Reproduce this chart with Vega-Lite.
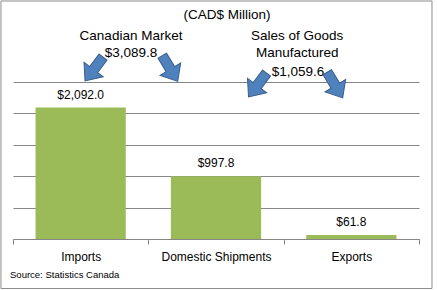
{
  "$schema": "https://vega.github.io/schema/vega-lite/v6.json",
  "width": 406,
  "height": 157,
  "autosize": {"type": "none"},
  "padding": {"left": 13, "top": 82, "right": 18, "bottom": 51},
  "background": "white",
  "config": {"view": {"stroke": null}, "font": "Liberation Sans"},
  "datasets": {
    "bars": [
      {"category": "Imports", "value": 2092.0},
      {"category": "Domestic Shipments", "value": 997.8},
      {"category": "Exports", "value": 61.8}
    ],
    "notes": [
      {"text": "Canadian Market", "x": 0.872, "y": 3237},
      {"text": "$3,089.8", "x": 0.872, "y": 2962},
      {"text": "Sales of Goods", "x": 2.1, "y": 3237},
      {"text": "Manufactured", "x": 2.1, "y": 2962},
      {"text": "$1,059.6", "x": 2.106, "y": 2659}
    ],
    "heading": [{"text": "(CAD$ Million)", "x": 1.581, "y": 3567}],
    "source": [{"text": "Source: Statistics Canada", "x": -0.022, "y": -573}],
    "arrows": [
      {"dir": "left", "x": 0.599, "y": 2707},
      {"dir": "right", "x": 1.16, "y": 2715},
      {"dir": "left", "x": 1.807, "y": 2452},
      {"dir": "right", "x": 2.379, "y": 2452}
    ],
    "frame": [{"x": -0.089, "x2": 3.096, "y": -788, "y2": 3790}]
  },
  "layer": [
    {
      "data": {"name": "frame"},
      "mark": {"type": "rect", "fill": "white", "fillOpacity": 0, "stroke": "#8c8c8c", "strokeWidth": 1},
      "encoding": {
        "x": {"field": "x", "type": "quantitative", "scale": {"domain": [0, 3], "nice": false, "zero": false}, "axis": null},
        "x2": {"field": "x2"},
        "y": {"field": "y", "type": "quantitative", "scale": {"domain": [0, 2500], "nice": false},
          "axis": {"title": null, "labels": false, "ticks": false, "domain": false, "values": [0, 500, 1000, 1500, 2000, 2500], "grid": true, "gridColor": "#868686", "gridWidth": 1}},
        "y2": {"field": "y2"}
      }
    },
    {
      "data": {"name": "bars"},
      "mark": {"type": "bar", "color": "#9BBB59", "width": {"band": 0.6667}},
      "encoding": {
        "x": {
          "field": "category", "type": "nominal", "sort": null,
          "scale": {"paddingInner": 0, "paddingOuter": 0},
          "axis": {
            "title": null, "labelAngle": 0, "tickBand": "extent",
            "domainColor": "#868686", "tickColor": "#868686", "tickSize": 5,
            "labelFont": "Liberation Sans", "labelFontSize": 12, "labelColor": "#000000",
            "labelPadding": 7
          }
        },
        "y": {
          "field": "value", "type": "quantitative",
          "scale": {"domain": [0, 2500], "nice": false},
          "axis": {"title": null, "labels": false, "ticks": false, "domain": false, "values": [0, 500, 1000, 1500, 2000, 2500], "grid": true, "gridColor": "#868686", "gridWidth": 1}
        }
      }
    },
    {
      "data": {"name": "bars"},
      "mark": {"type": "text", "baseline": "middle", "dy": -13, "fontSize": 12, "font": "Liberation Sans", "color": "#000000"},
      "encoding": {
        "x": {"field": "category", "type": "nominal", "sort": null, "scale": {"paddingInner": 0, "paddingOuter": 0}, "axis": null},
        "y": {"field": "value", "type": "quantitative", "scale": {"domain": [0, 2500], "nice": false},
          "axis": {"title": null, "labels": false, "ticks": false, "domain": false, "values": [0, 500, 1000, 1500, 2000, 2500], "grid": true, "gridColor": "#868686", "gridWidth": 1}},
        "text": {"field": "value", "format": "$,.1f"}
      }
    },
    {
      "data": {"name": "notes"},
      "mark": {"type": "text", "baseline": "middle", "align": "center", "fontSize": 13.5, "font": "Liberation Sans", "color": "#000000"},
      "encoding": {
        "x": {"field": "x", "type": "quantitative", "scale": {"domain": [0, 3], "nice": false, "zero": false}, "axis": null},
        "y": {"field": "y", "type": "quantitative", "scale": {"domain": [0, 2500], "nice": false},
          "axis": {"title": null, "labels": false, "ticks": false, "domain": false, "values": [0, 500, 1000, 1500, 2000, 2500], "grid": true, "gridColor": "#868686", "gridWidth": 1}},
        "text": {"field": "text"}
      }
    },
    {
      "data": {"name": "heading"},
      "mark": {"type": "text", "baseline": "middle", "align": "center", "fontSize": 13.5, "font": "Liberation Sans", "color": "#000000"},
      "encoding": {
        "x": {"field": "x", "type": "quantitative", "scale": {"domain": [0, 3], "nice": false, "zero": false}, "axis": null},
        "y": {"field": "y", "type": "quantitative", "scale": {"domain": [0, 2500], "nice": false},
          "axis": {"title": null, "labels": false, "ticks": false, "domain": false, "values": [0, 500, 1000, 1500, 2000, 2500], "grid": true, "gridColor": "#868686", "gridWidth": 1}},
        "text": {"field": "text"}
      }
    },
    {
      "data": {"name": "source"},
      "mark": {"type": "text", "baseline": "middle", "align": "left", "fontSize": 9.5, "font": "Liberation Sans", "color": "#000000"},
      "encoding": {
        "x": {"field": "x", "type": "quantitative", "scale": {"domain": [0, 3], "nice": false, "zero": false}, "axis": null},
        "y": {"field": "y", "type": "quantitative", "scale": {"domain": [0, 2500], "nice": false},
          "axis": {"title": null, "labels": false, "ticks": false, "domain": false, "values": [0, 500, 1000, 1500, 2000, 2500], "grid": true, "gridColor": "#868686", "gridWidth": 1}},
        "text": {"field": "text"}
      }
    },
    {
      "data": {"name": "arrows"},
      "transform": [{"filter": "datum.dir === 'left'"}],
      "mark": {"type": "point", "shape": "M -0.33 -1 L 0.33 -1 L 0.33 0.05 L 0.8 0.05 L 0 1 L -0.8 0.05 L -0.33 0.05 Z", "filled": true, "fill": "#4F81BD", "stroke": "#385D8A", "strokeWidth": 1, "opacity": 1, "fillOpacity": 1, "size": 900, "angle": 37},
      "encoding": {
        "x": {"field": "x", "type": "quantitative", "scale": {"domain": [0, 3], "nice": false, "zero": false}, "axis": null},
        "y": {"field": "y", "type": "quantitative", "scale": {"domain": [0, 2500], "nice": false},
          "axis": {"title": null, "labels": false, "ticks": false, "domain": false, "values": [0, 500, 1000, 1500, 2000, 2500], "grid": true, "gridColor": "#868686", "gridWidth": 1}}
      }
    },
    {
      "data": {"name": "arrows"},
      "transform": [{"filter": "datum.dir === 'right'"}],
      "mark": {"type": "point", "shape": "M -0.33 -1 L 0.33 -1 L 0.33 0.05 L 0.8 0.05 L 0 1 L -0.8 0.05 L -0.33 0.05 Z", "filled": true, "fill": "#4F81BD", "stroke": "#385D8A", "strokeWidth": 1, "opacity": 1, "fillOpacity": 1, "size": 900, "angle": 329},
      "encoding": {
        "x": {"field": "x", "type": "quantitative", "scale": {"domain": [0, 3], "nice": false, "zero": false}, "axis": null},
        "y": {"field": "y", "type": "quantitative", "scale": {"domain": [0, 2500], "nice": false},
          "axis": {"title": null, "labels": false, "ticks": false, "domain": false, "values": [0, 500, 1000, 1500, 2000, 2500], "grid": true, "gridColor": "#868686", "gridWidth": 1}}
      }
    }
  ],
  "resolve": {"scale": {"x": "independent"}}
}
